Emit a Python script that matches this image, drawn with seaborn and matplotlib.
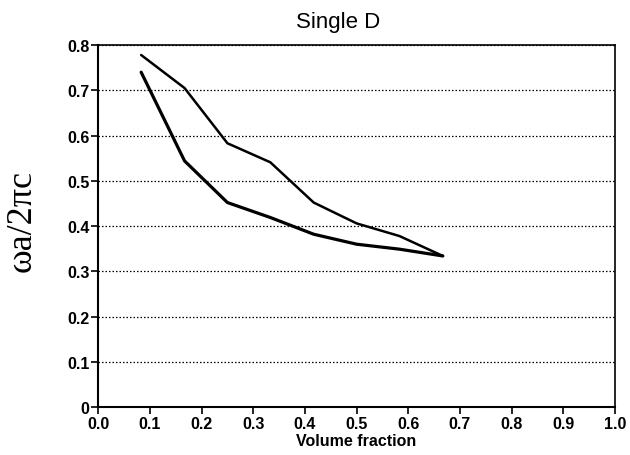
import matplotlib
matplotlib.use("Agg")
import matplotlib.pyplot as plt
import seaborn as sns
import pandas as pd
from matplotlib.ticker import FixedLocator, FixedFormatter

volume_fraction = [0.083, 0.167, 0.25, 0.333, 0.417, 0.5, 0.583, 0.667]
upper_band = [0.778, 0.705, 0.583, 0.541, 0.452, 0.406, 0.378, 0.334]
lower_band = [0.740, 0.544, 0.452, 0.419, 0.382, 0.360, 0.349, 0.334]
x_ticks = [0.0, 0.1, 0.2, 0.3, 0.4, 0.5, 0.6, 0.7, 0.8, 0.9, 1.0]
y_ticks = [0, 0.1, 0.2, 0.3, 0.4, 0.5, 0.6, 0.7, 0.8]
y_tick_labels = ["0", "0.1", "0.2", "0.3", "0.4", "0.5", "0.6", "0.7", "0.8"]

df = pd.DataFrame({
    "x": volume_fraction + volume_fraction,
    "y": upper_band + lower_band,
    "band": ["upper"] * len(volume_fraction) + ["lower"] * len(volume_fraction),
})

sns.set_style("white")
plt.rcParams["font.family"] = ["Liberation Sans", "DejaVu Sans"]
plt.rcParams["text.color"] = "black"
plt.rcParams["axes.labelcolor"] = "black"
plt.rcParams["xtick.color"] = "black"
plt.rcParams["ytick.color"] = "black"

fig = plt.figure(figsize=(6.3, 4.56), dpi=100)
ax = fig.add_axes([0.156, 0.105, 0.82, 0.794])

sns.lineplot(data=df[df.band == "upper"], x="x", y="y", sort=False, ax=ax,
             color="black", linewidth=1.8, estimator=None)
sns.lineplot(data=df[df.band == "lower"], x="x", y="y", sort=False, ax=ax,
             color="black", linewidth=2.3, estimator=None)

ax.set_xlim(0, 1.0)
ax.set_ylim(0, 0.8)
ax.xaxis.set_major_locator(FixedLocator(x_ticks))
ax.xaxis.set_major_formatter(FixedFormatter([f"{t:.1f}" for t in x_ticks]))
ax.yaxis.set_major_locator(FixedLocator(y_ticks))
ax.yaxis.set_major_formatter(FixedFormatter(y_tick_labels))

for t in y_ticks[1:]:
    ax.axhline(t, color="black", linewidth=0.9, linestyle=(0, (1.2, 1.6)), zorder=0)

for s in ax.spines.values():
    s.set_color("black")
    s.set_linewidth(1.2)
ax.spines["left"].set_linewidth(1.5)
ax.spines["bottom"].set_linewidth(1.5)

ax.tick_params(axis="both", which="major", direction="out", length=5, width=1.2,
               color="black", labelcolor="black", left=True, bottom=True,
               labelsize=11.5, pad=1.5)
for lab in ax.get_xticklabels() + ax.get_yticklabels():
    lab.set_fontweight("bold")

ax.set_xlabel("Volume fraction", fontsize=11.5, fontweight="bold", labelpad=1, color="black")
ax.set_ylabel("ωa/2πc", fontsize=26, family=["Liberation Serif", "DejaVu Serif"], color="black")
ax.yaxis.set_label_coords(-0.116, 0.517)
ax.set_title("Single D", fontsize=16, x=0.464, pad=13, color="black")

fig.savefig("out.png", dpi=100)
